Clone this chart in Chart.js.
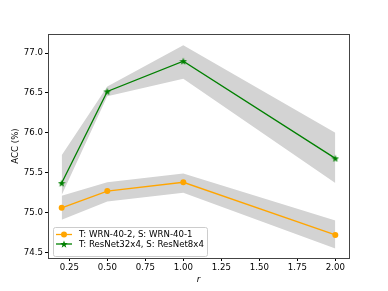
<!DOCTYPE html>
<html>
<head>
<meta charset="utf-8">
<script src="https://cdn.jsdelivr.net/npm/chart.js@4"></script>
<style>
  html, body { margin: 0; padding: 0; background: #fff; }
  #wrap { width: 388px; height: 291px; }
</style>
</head>
<body>
<div id="wrap"><canvas id="chart" width="388" height="291"></canvas></div>
<script>
// data
const rValues = [0.2, 0.5, 1.0, 2.0];

const wrnAcc   = [75.06, 75.27, 75.38, 74.72];
const wrnUpper = [75.21, 75.38, 75.49, 74.90];
const wrnLower = [74.91, 75.14, 75.25, 74.55];

const resAcc   = [75.37, 76.52, 76.90, 75.68];
const resUpper = [75.72, 76.58, 77.10, 76.00];
const resLower = [75.22, 76.46, 76.68, 75.37];

const xTicks = [0.25, 0.5, 0.75, 1.0, 1.25, 1.5, 1.75, 2.0];
const yTicks = [74.5, 75.0, 75.5, 76.0, 76.5, 77.0];

const seriesLabels = ['T: WRN-40-2, S: WRN-40-1', 'T: ResNet32x4, S: ResNet8x4'];

const FONT = 'DejaVu Sans';
const FS = 8.6;

function pts(ys) {
    return rValues.map((x, i) => ({ x: x, y: ys[i] }));
}

// filled five-point star marker, like matplotlib '*'
function makeStar(size, color) {
    const c = document.createElement('canvas');
    c.width = size; c.height = size;
    const g = c.getContext('2d');
    const cx = size / 2, cy = size / 2 + 0.4;
    const outer = size / 2, inner = outer * 0.4;
    g.beginPath();
    for (let i = 0; i < 10; i++) {
        const r = i % 2 === 0 ? outer : inner;
        const a = -Math.PI / 2 + i * Math.PI / 5;
        g.lineTo(cx + r * Math.cos(a), cy + r * Math.sin(a));
    }
    g.closePath();
    g.fillStyle = color;
    g.fill();
    return c;
}
const starImg = makeStar(8, '#008000');

// frame on top/right + legend inside plot
const framePlugin = {
    id: 'frame',
    afterDraw(chart) {
        const { ctx, chartArea: a } = chart;
        ctx.save();
        ctx.strokeStyle = '#444';
        ctx.lineWidth = 1;
        ctx.strokeRect(Math.round(a.left) + 0.5, Math.round(a.top) + 0.5,
            Math.round(a.right - a.left), Math.round(a.bottom - a.top));

        // legend
        const lx = 53, ly = 227, lw = 154, lh = 29;
        ctx.fillStyle = 'rgba(255,255,255,0.8)';
        ctx.strokeStyle = '#ccc';
        ctx.beginPath();
        ctx.roundRect(lx + 0.5, ly + 0.5, lw, lh, 2);
        ctx.fill();
        ctx.stroke();

        const rows = [ly + 7.5, ly + 17];
        const colors = ['#FFA500', '#008000'];
        ctx.font = FS + 'px "' + FONT + '"';
        ctx.textBaseline = 'middle';
        rows.forEach((y, i) => {
            ctx.strokeStyle = colors[i];
            ctx.lineWidth = 1.3;
            ctx.beginPath();
            ctx.moveTo(56, y);
            ctx.lineTo(72, y);
            ctx.stroke();
            if (i === 0) {
                ctx.fillStyle = colors[i];
                ctx.beginPath();
                ctx.arc(64, y, 3, 0, Math.PI * 2);
                ctx.fill();
            } else {
                ctx.drawImage(starImg, 60, y - 4);
            }
            ctx.fillStyle = '#000';
            ctx.fillText(seriesLabels[i], 79, y + 0.5);
        });
        ctx.restore();
    }
};

const ctx = document.getElementById('chart').getContext('2d');
const chart = new Chart(ctx, {
    type: 'line',
    data: {
        datasets: [
            {
                label: seriesLabels[0],
                data: pts(wrnAcc),
                borderColor: '#FFA500',
                backgroundColor: '#FFA500',
                borderWidth: 1.3,
                pointRadius: 3,
                pointStyle: 'circle',
                pointBorderWidth: 0,
                fill: false,
                order: 1
            },
            {
                label: seriesLabels[1],
                data: pts(resAcc),
                borderColor: '#008000',
                backgroundColor: '#008000',
                borderWidth: 1.3,
                pointStyle: starImg,
                fill: false,
                order: 0
            },
            {
                label: 'wrn-upper',
                data: pts(wrnUpper),
                borderWidth: 0,
                pointRadius: 0,
                backgroundColor: '#d3d3d3',
                fill: '+1',
                order: 5
            },
            {
                label: 'wrn-lower',
                data: pts(wrnLower),
                borderWidth: 0,
                pointRadius: 0,
                fill: false,
                order: 5
            },
            {
                label: 'res-upper',
                data: pts(resUpper),
                borderWidth: 0,
                pointRadius: 0,
                backgroundColor: '#d3d3d3',
                fill: '+1',
                order: 5
            },
            {
                label: 'res-lower',
                data: pts(resLower),
                borderWidth: 0,
                pointRadius: 0,
                fill: false,
                order: 5
            }
        ]
    },
    options: {
        responsive: false,
        animation: false,
        devicePixelRatio: 1,
        layout: { padding: { left: 11, top: 34, right: 39, bottom: 6 } },
        plugins: {
            legend: { display: false },
            tooltip: { enabled: false }
        },
        scales: {
            x: {
                type: 'linear',
                min: 0.11,
                max: 2.09,
                afterBuildTicks: function(axis) {
                    axis.ticks = xTicks.map(v => ({ value: v }));
                },
                afterFit: function(axis) { axis.height = 27; },
                grid: {
                    drawOnChartArea: false,
                    drawTicks: true,
                    tickLength: 3,
                    tickColor: '#000'
                },
                border: { color: '#444' },
                ticks: {
                    color: '#000',
                    padding: 2,
                    maxRotation: 0,
                    font: { family: FONT, size: FS },
                    callback: v => v.toFixed(2)
                },
                title: {
                    display: true,
                    text: 'r',
                    color: '#000',
                    padding: { top: 2, bottom: 0 },
                    font: { family: FONT, size: FS, style: 'italic' }
                }
            },
            y: {
                min: 74.43,
                max: 77.24,
                afterBuildTicks: function(axis) {
                    axis.ticks = yTicks.map(v => ({ value: v }));
                },
                afterFit: function(axis) { axis.width = 37; },
                grid: {
                    drawOnChartArea: false,
                    drawTicks: true,
                    tickLength: 3,
                    tickColor: '#000'
                },
                border: { color: '#444' },
                ticks: {
                    color: '#000',
                    padding: 2,
                    font: { family: FONT, size: FS },
                    callback: v => v.toFixed(1)
                },
                title: {
                    display: true,
                    text: 'ACC (%)',
                    color: '#000',
                    padding: { top: 0, bottom: 4 },
                    font: { family: FONT, size: FS }
                }
            }
        }
    },
    plugins: [framePlugin]
});
</script>
</body>
</html>
